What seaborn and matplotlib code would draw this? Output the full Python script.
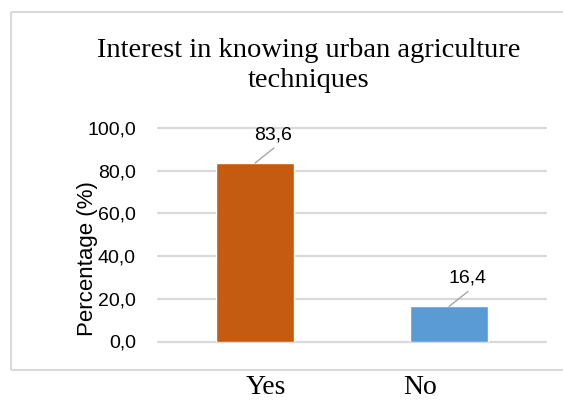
import matplotlib
matplotlib.use("Agg")
import matplotlib.pyplot as plt
import seaborn as sns
from matplotlib.ticker import FuncFormatter

categories = ["Yes", "No"]
values = [83.6, 16.4]
colors = ["#C55A11", "#5B9BD5"]
yticks = [0, 20, 40, 60, 80, 100]
title_lines = ["Interest in knowing urban agriculture", "techniques"]
ylabel = "Percentage (%)"

sns.set_theme(style="white")
plt.rcParams["font.family"] = ["Liberation Sans", "DejaVu Sans"]
plt.rcParams["text.color"] = "black"

W, H = 563, 401
fig = plt.figure(figsize=(W / 100, H / 100), dpi=100)
fig.patch.set_facecolor("white")

# background axes in pixel units for the chart frame (open on the right)
bg = fig.add_axes([0, 0, 1, 1])
bg.set_xlim(0, W)
bg.set_ylim(H, 0)
bg.axis("off")
bg.hlines([12, 370], 10.5, W + 20, color="#D9D9D9", lw=1.5)
bg.vlines(10.5, 12, 370, color="#D9D9D9", lw=1.5)

ax = fig.add_axes([158 / W, (H - 341.5) / H, 388 / W, 213.5 / H])
ax.patch.set_alpha(0)
sns.barplot(x=categories, y=values, hue=categories, palette=colors,
            width=0.4, saturation=1, legend=False, ax=ax)
ax.set_xlim(-0.5, 1.5)
ax.set_ylim(0, 100)
ax.set_yticks(yticks)
ax.yaxis.set_major_formatter(FuncFormatter(lambda v, p: f"{v:.1f}".replace(".", ",")))
ax.tick_params(axis="y", length=0, pad=16, labelsize=14, colors="black")
ax.set_axisbelow(True)
ax.yaxis.grid(True, color="#D9D9D9", lw=1.6)
for gl in ax.get_ygridlines():
    gl.set_clip_on(False)
sns.despine(ax=ax, left=True, bottom=True)
ax.set_xticks([])
ax.set_xlabel("")
ax.set_ylabel(ylabel, fontsize=16, color="black")
ax.yaxis.set_label_coords(-0.155, 0.39)

# category names under the frame, Times style
xoff = [11, -29]
for i, lab in enumerate(categories):
    ax.annotate(lab, xy=(i, 0), xycoords=("data", "axes fraction"),
                xytext=(xoff[i], -53), textcoords="offset pixels",
                ha="center", va="baseline", fontsize=20,
                family="Liberation Serif", annotation_clip=False)

# value labels with leader lines
for i, v in enumerate(values):
    ax.annotate("", xy=(i, v), xytext=(19, 15), textcoords="offset pixels",
                arrowprops=dict(arrowstyle="-", color="#A6A6A6", lw=1,
                                shrinkA=0, shrinkB=0))
    ax.annotate(f"{v:.1f}".replace(".", ","), xy=(i, v), xytext=(18, 24),
                textcoords="offset pixels", ha="center", va="baseline",
                fontsize=14)

fig.text(308.5 / W, (H - 57) / H, title_lines[0], ha="center", va="baseline",
         fontsize=20.5, family="Liberation Serif")
fig.text(308.5 / W, (H - 87) / H, title_lines[1], ha="center", va="baseline",
         fontsize=20.5, family="Liberation Serif")

fig.savefig("out.png", dpi=100, facecolor="white")
